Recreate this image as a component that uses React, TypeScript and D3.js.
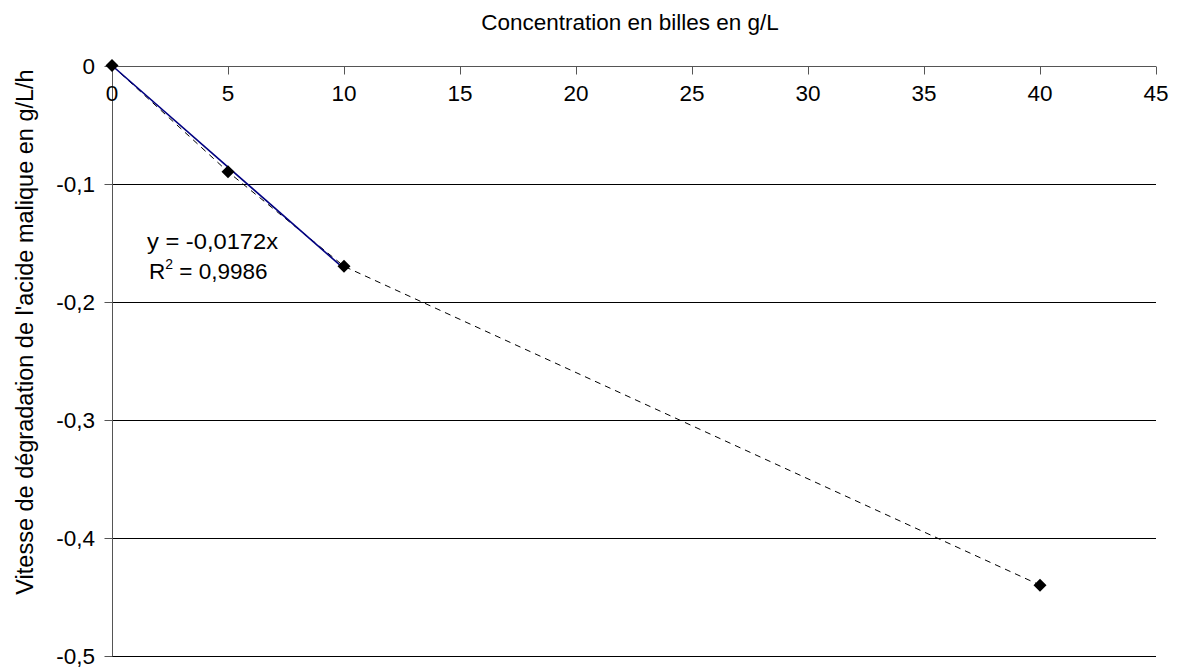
import React from "react";
import * as d3 from "d3";

const concentrations = [0, 5, 10, 40];
const rates = [0, -0.09, -0.17, -0.44];
const xTicks = [0, 5, 10, 15, 20, 25, 30, 35, 40, 45];
const yTicks = [0, -0.1, -0.2, -0.3, -0.4, -0.5];
const trendSlope = -0.0172;
const trendRange = [0, 10];
const title = "Concentration en billes en g/L";
const yTitle = "Vitesse de dégradation de l'acide malique en g/L/h";
const eqLine1 = "y = -0,0172x";
const eqLine2R = "R";
const eqLine2Rest = " = 0,9986";

const W = 1178;
const H = 670;
const FONT = "'Liberation Sans', Arial, sans-serif";

export default function App() {
  const x = d3.scaleLinear().domain([0, 45]).range([112, 1156]);
  const y = d3.scaleLinear().domain([-0.5, 0]).range([656, 65.5]);
  const crisp = (v: number) => Math.round(v) + 0.5;

  const dataLine = d3
    .line<number>()
    .x((_, i) => x(concentrations[i]))
    .y((d) => y(d))(rates) as string;

  const trendLine = d3
    .line<number>()
    .x((d) => x(d))
    .y((d) => y(trendSlope * d))(trendRange) as string;

  const fmt = (v: number) => (v === 0 ? "0" : String(v).replace(".", ","));
  const x0 = crisp(x(0));
  const y0 = crisp(y(0));

  return (
    <svg
      width={W}
      height={H}
      style={{ position: "absolute", left: 0, top: 0, background: "#fff" }}
      fontFamily={FONT}
    >
      <rect width={W} height={H} fill="#fff" />
      {/* gridlines */}
      {yTicks
        .filter((t) => t !== 0)
        .map((t) => (
          <line
            key={"g" + t}
            x1={x(0)}
            x2={x(45)}
            y1={crisp(y(t))}
            y2={crisp(y(t))}
            stroke="#000"
            strokeWidth={1}
          />
        ))}
      {/* y axis */}
      <line x1={x0} x2={x0} y1={y(0)} y2={y(-0.5)} stroke="#555" strokeWidth={1} />
      {yTicks.map((t) => (
        <g key={"yt" + t}>
          <line x1={x0 - 8} x2={x0} y1={crisp(y(t))} y2={crisp(y(t))} stroke="#555" />
          <text
            x={95}
            y={y(t) + 8}
            textAnchor="end"
            fontSize={22.5}
            fill="#000"
          >
            {fmt(t)}
          </text>
        </g>
      ))}
      {/* x axis at y=0 */}
      <line x1={x(0)} x2={x(45)} y1={y0} y2={y0} stroke="#555" strokeWidth={1} />
      {xTicks.map((t) => (
        <g key={"xt" + t}>
          <line x1={crisp(x(t))} x2={crisp(x(t))} y1={y0} y2={y0 + 8} stroke="#555" />
          <text x={x(t)} y={100.5} textAnchor="middle" fontSize={22.5} fill="#000">
            {t}
          </text>
        </g>
      ))}
      {/* dashed data line */}
      <path d={dataLine} fill="none" stroke="#000" strokeWidth={1} strokeDasharray="6,5" />
      {/* trend line */}
      <path d={trendLine} fill="none" stroke="#000080" strokeWidth={1.6} />
      {/* markers */}
      {concentrations.map((c, i) => {
        const cx = x(c);
        const cy = y(rates[i]);
        const r = 6.5;
        return (
          <path
            key={"m" + i}
            d={`M${cx},${cy - r}L${cx + r},${cy}L${cx},${cy + r}L${cx - r},${cy}Z`}
            fill="#000"
          />
        );
      })}
      {/* equation */}
      <text x={147} y={248.5} fontSize={22.5} fill="#000" textLength={131} lengthAdjust="spacingAndGlyphs">
        {eqLine1}
      </text>
      <text x={149} y={278.5} fontSize={22.5} fill="#000">
        {eqLine2R}
        <tspan dy={-10} fontSize={14}>
          2
        </tspan>
        <tspan dy={10}>{eqLine2Rest}</tspan>
      </text>
      {/* titles */}
      <text x={630} y={30} textAnchor="middle" fontSize={22.5} fill="#000">
        {title}
      </text>
      <text
        transform={`translate(33,332) rotate(-90)`}
        textAnchor="middle"
        fontSize={23.5}
        fill="#000"
      >
        {yTitle}
      </text>
    </svg>
  );
}
